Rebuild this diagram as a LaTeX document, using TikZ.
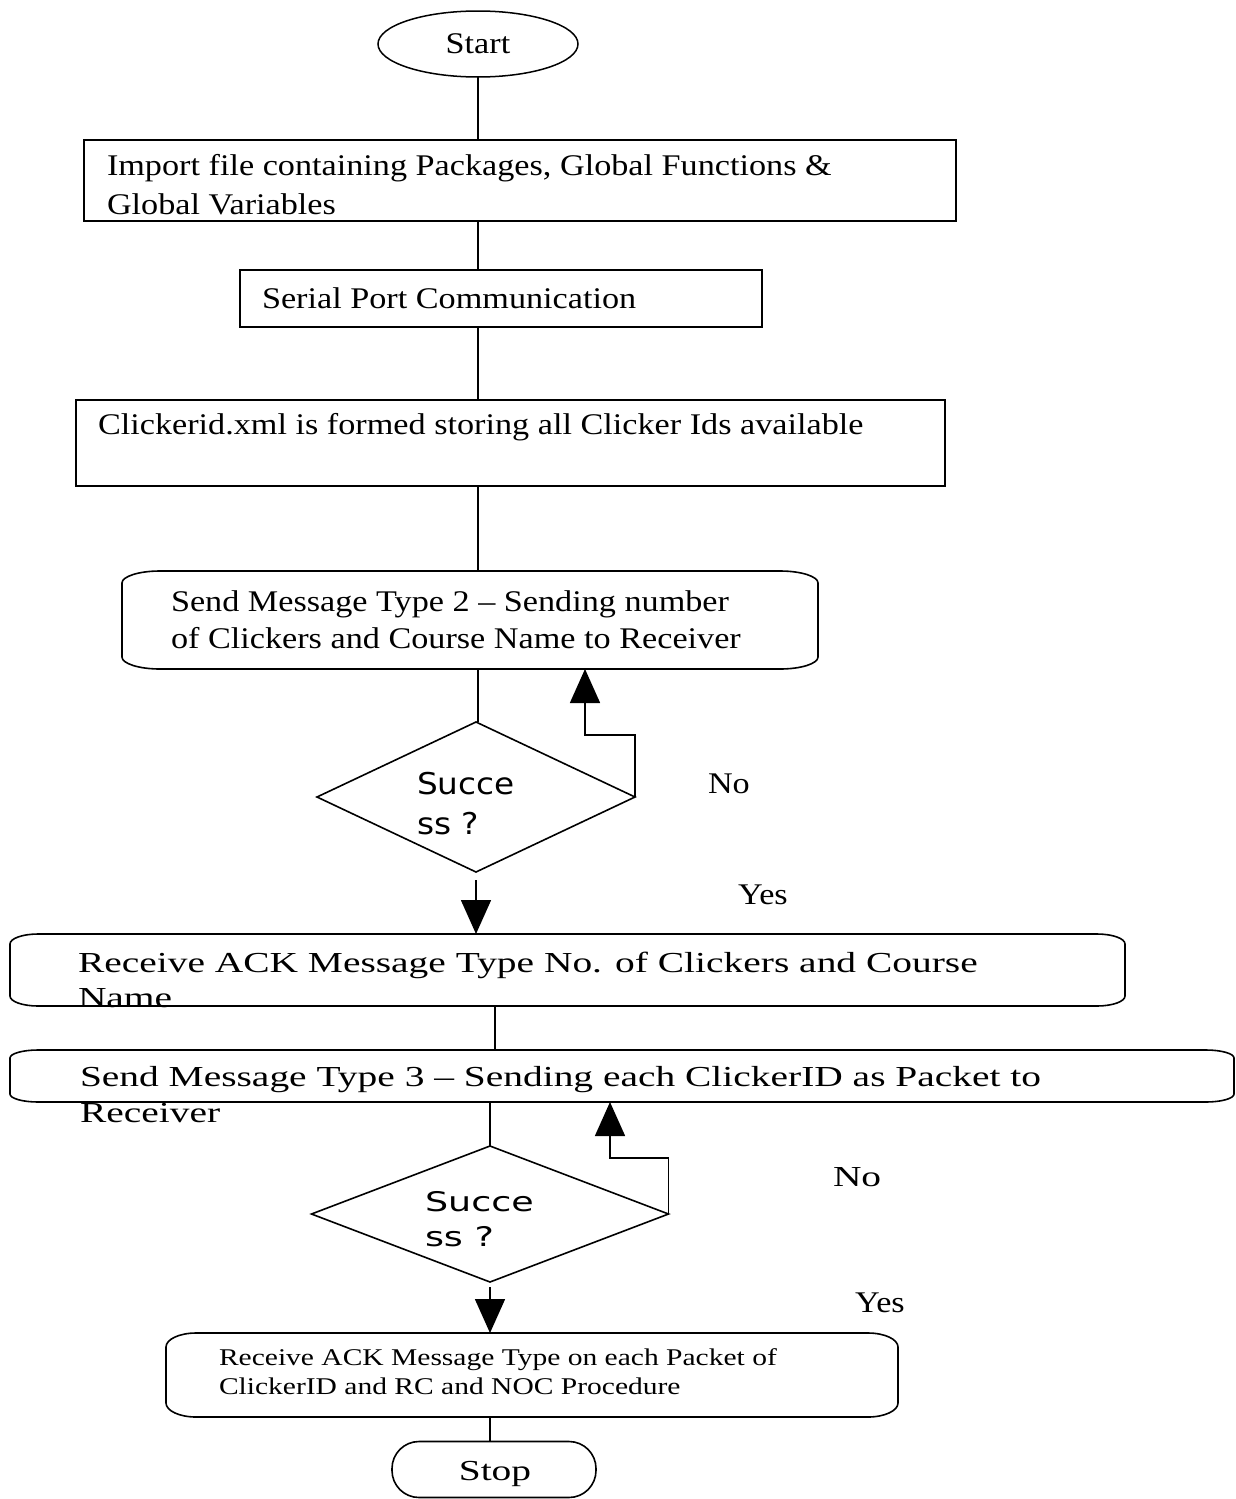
\documentclass[tikz,border=0pt]{standalone}
\usepackage{fontspec}
\usetikzlibrary{shapes.geometric,arrows.meta,calc}

% Serif faces for the step texts, sans face for the decisions
\newfontfamily\bodyfont{Liberation Serif}[FakeStretch=1.14]
\newfontfamily\widefont{Liberation Serif}[FakeStretch=1.36]
\newfontfamily\smallfont{Liberation Serif}[FakeStretch=1.23]
\newfontfamily\decfont{DejaVu Sans}[FakeStretch=1.09]
\newfontfamily\decwidefont{DejaVu Sans}[FakeStretch=1.35]

% Outline of a box whose corners are quarter ellipses
\newcommand\softoutline[3]{%
  \draw[line width=1.6pt]
    ([xshift=#2pt]#1.north west) -- ([xshift=-#2pt]#1.north east)
    arc[start angle=90,end angle=0,x radius=#2pt,y radius=#3pt]
    -- ([yshift=#3pt]#1.south east)
    arc[start angle=0,end angle=-90,x radius=#2pt,y radius=#3pt]
    -- ([xshift=#2pt]#1.south west)
    arc[start angle=-90,end angle=-180,x radius=#2pt,y radius=#3pt]
    -- ([yshift=-#3pt]#1.north west)
    arc[start angle=180,end angle=90,x radius=#2pt,y radius=#3pt]
    -- cycle;}

\begin{document}
\begin{tikzpicture}[x=1pt,y=1pt,
  every node/.style={inner sep=0pt,outer sep=0pt},
  boxshape/.style={rectangle,draw,line width=1.6pt},
  softshape/.style={rectangle,draw=none},
  decshape/.style={diamond,draw,line width=1.6pt},
  txt/.style={anchor=west,align=left,font=\bodyfont\fontsize{30}{39}\selectfont},
  widetxt/.style={anchor=west,align=left,font=\widefont\fontsize{29}{36}\selectfont},
  smalltxt/.style={anchor=west,align=left,font=\smallfont\fontsize{24}{29}\selectfont},
  conn/.style={line width=1.6pt},
  flow/.style={conn,-{Triangle[length=34pt,width=30pt]}}]

\useasboundingbox (0,0) rectangle (1235,-1499);

% ---- start ----
\node[ellipse,draw,line width=1.5pt,minimum width=200,minimum height=66,
      font=\bodyfont\fontsize{30}{36}\selectfont] (start) at (478,-44) {Start};

% ---- import ----
\node[boxshape,minimum width=872,minimum height=81] (b1) at (520,-180.5) {};
\node[txt] (t1) at (107,-184.5) {Import file containing Packages, Global Functions \&\\Global Variables};

% ---- serial port ----
\node[boxshape,minimum width=522,minimum height=57] (b2) at (501,-298.5) {};
\node[txt] (t2) at (262,-298) {Serial Port Communication};

% ---- clicker id file ----
\node[boxshape,minimum width=869,minimum height=86] (b3) at (510.5,-443) {};
\node[txt] (t3) at (98,-427) {Clickerid.xml is formed storing all Clicker Ids available};

% ---- message type 2 ----
\node[softshape,minimum width=696,minimum height=98] (b4) at (470,-620) {};
\softoutline{b4}{38}{12}
\node[txt,font=\bodyfont\fontsize{30}{37}\selectfont] (t4) at (171,-619.5)
  {Send Message Type 2 – Sending number\\of Clickers and Course Name to Receiver};

% ---- first decision ----
\node[decshape,minimum width=318,minimum height=150] (d1) at (476,-797) {};
\node[anchor=west,align=left,font=\decfont\fontsize{30}{40}\selectfont] (dt1) at (417,-804) {Succe\\ss ?};
\node[txt] (no1) at (708,-784) {No};
\node[txt] (yes1) at (738,-895) {Yes};

% ---- ACK for type 2 ----
\node[softshape,minimum width=1115,minimum height=72] (b5) at (567.5,-970) {};
\softoutline{b5}{28}{10}
\node[widetxt,font=\widefont\fontsize{29}{35}\selectfont] (t5) at (78,-979.5)
  {Receive ACK Message Type No. of Clickers and Course\\Name};

% ---- message type 3 ----
\node[softshape,minimum width=1224,minimum height=52] (b6) at (622,-1076) {};
\softoutline{b6}{28}{8}
\node[widetxt] (t6) at (80,-1095)
  {Send Message Type 3 – Sending each ClickerID as Packet to\\Receiver};

% ---- second decision ----
\node[decshape,minimum width=357,minimum height=136] (d2) at (490,-1214) {};
\node[anchor=west,align=left,font=\decwidefont\fontsize{27}{35}\selectfont] (dt2) at (425,-1219.5) {Succe\\ss ?};
\node[widetxt] (no2) at (833,-1177) {No};
\node[txt] (yes2) at (855,-1303) {Yes};

% ---- ACK per packet ----
\node[softshape,minimum width=732,minimum height=84] (b7) at (532,-1375) {};
\softoutline{b7}{30}{14}
\node[smalltxt] (t7) at (219,-1371.5)
  {Receive ACK Message Type on each Packet of\\ClickerID and RC and NOC Procedure};

% ---- stop ----
\node[rectangle,rounded corners=27pt,draw,line width=1.6pt,minimum width=204,minimum height=56] (stop) at (494,-1469.5) {};
\node[font=\widefont\fontsize{29}{36}\selectfont] (tstop) at (495,-1474) {Stop};

% ---- connectors ----
\coordinate (r1) at (585,-735);
\coordinate (s2) at (495,-1028);
\coordinate (r2) at (610,-1158);

\draw[conn] (start.south) -- (b1.north -| start.south);
\draw[conn] (b1.south -| start) -- (b2.north -| start);
\draw[conn] (b2.south -| start) -- (b3.north -| start);
\draw[conn] (b3.south -| start) -- (b4.north -| start);
\draw[conn] (b4.south -| start) -- (start |- d1.north);
\draw[flow] (d1.east) |- (r1) -- (r1 |- b4.south);
\draw[flow,shorten <=8pt] (d1.south) -- (b5.north -| d1.south);
\draw[conn] (b5.south -| s2) -- (b6.north -| s2);
\draw[conn] (b6.south -| d2) -- (d2.north);
\draw[flow] (d2.east) |- (r2) -- (r2 |- b6.south);
\draw[flow,shorten <=5pt] (d2.south) -- (b7.north -| d2.south);
\draw[conn] (b7.south -| d2) -- (stop.north -| d2);

\end{tikzpicture}
\end{document}
